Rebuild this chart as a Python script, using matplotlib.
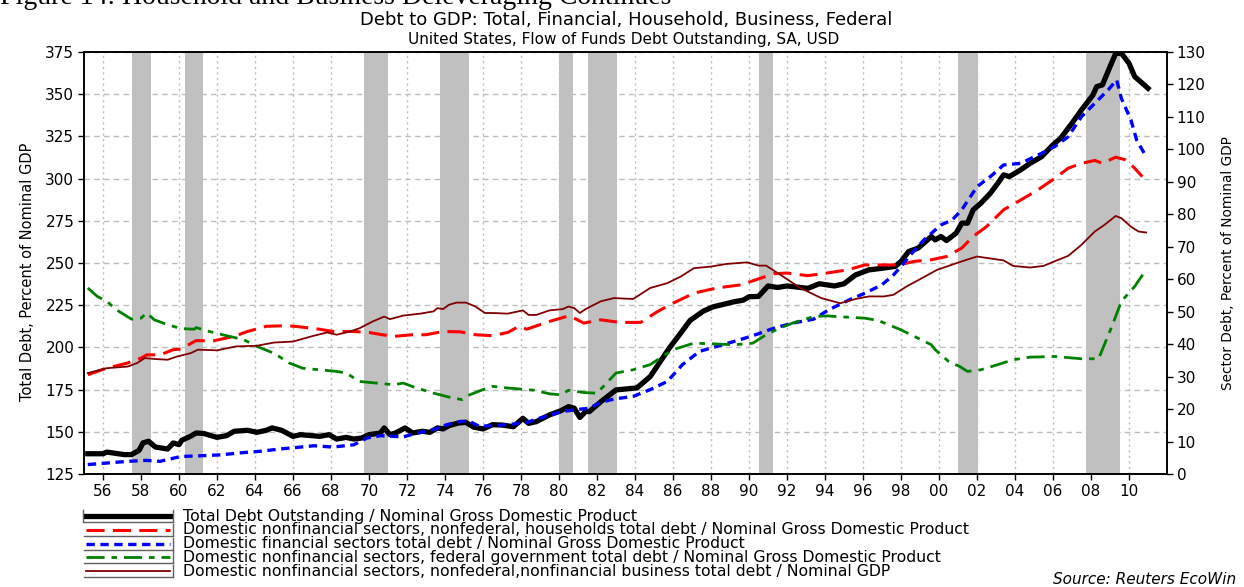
import matplotlib
matplotlib.use('Agg')
import matplotlib.pyplot as plt
from matplotlib.lines import Line2D

plt.rcParams['font.family'] = ['DejaVu Sans']
plt.rcParams['lines.scale_dashes'] = False

# data (years as decimal years)
total_years = [1955.2, 1956.0, 1956.2, 1957.1, 1957.5, 1957.9, 1958.1, 1958.4, 1958.75, 1959.4,
               1959.7, 1960.0, 1960.15, 1960.6, 1960.9, 1961.3, 1962.0, 1962.5, 1962.9, 1963.6,
               1964.1, 1964.6, 1964.9, 1965.4, 1966.0, 1966.4, 1967.4, 1967.9, 1968.3, 1968.8,
               1969.2, 1969.6, 1970.0, 1970.6, 1970.8, 1971.1, 1971.4, 1971.9, 1972.3, 1972.8,
               1973.2, 1973.6, 1973.9, 1974.2, 1974.7, 1975.1, 1975.5, 1976.0, 1976.5, 1977.0,
               1977.6, 1978.1, 1978.4, 1978.8, 1979.5, 1980.1, 1980.5, 1980.8, 1981.1, 1981.4,
               1981.6, 1982.2, 1983.0, 1984.1, 1984.8, 1985.8, 1986.4, 1986.9, 1987.6, 1988.1,
               1989.2, 1989.7, 1990.0, 1990.5, 1991.0, 1991.5, 1992.0, 1993.1, 1993.7, 1994.5,
               1995.0, 1995.6, 1996.3, 1997.1, 1997.7, 1998.0, 1998.4, 1998.9, 1999.6, 1999.8,
               2000.1, 2000.4, 2000.9, 2001.2, 2001.5, 2001.8, 2002.2, 2002.7, 2003.1, 2003.4,
               2003.7, 2004.3, 2004.8, 2005.4, 2006.0, 2006.4, 2007.0, 2007.5, 2008.1, 2008.3,
               2008.6, 2009.0, 2009.3, 2009.6, 2010.0, 2010.3, 2010.7, 2011.0]
total_debt = [137, 137, 138, 136.5, 136.5, 139, 143.4, 144.4, 141, 139.8,
              143.4, 142.4, 145, 147.3, 149.3, 149, 146.7, 147.7, 150.3, 150.9,
              149.7, 150.9, 152.3, 150.9, 147.3, 148.3, 147.3, 148.3, 145.7, 146.7,
              145.7, 146.3, 148.3, 149.3, 152.3, 148.3, 149.3, 152.3, 149.3, 150.3,
              149.7, 152.3, 151.7, 153.6, 155.2, 155.6, 152.8, 151.7, 154.2, 154,
              153, 158, 155, 156, 160, 162.5, 164.9, 164, 158.5, 162,
              162, 167.8, 174.8, 176, 182.7, 199.5, 208.4, 216, 221.5, 224,
              227, 228, 230, 230.2, 236.4, 235.5, 236.4, 235, 237.7, 236.4,
              237.7, 242.9, 245.9, 247, 248, 250.9, 256.8, 258.8, 265.7, 263.7,
              265.7, 263.3, 267.7, 273.6, 273.6, 281.5, 285.4, 291.3, 297.3, 302.2,
              301.2, 305.2, 309.1, 313, 320, 323.9, 332.8, 340.7, 349.5, 354.5,
              355.5, 366.3, 374.2, 374.2, 368.3, 360.4, 356.5, 353.5]

hh_years = [1955.2, 1956.2, 1957.3, 1958.0, 1958.3, 1959.0, 1959.7, 1960.1, 1960.9, 1961.8,
            1962.9, 1963.6, 1964.6, 1965.7, 1966.4, 1967.4, 1968.1, 1969.2, 1970.0, 1970.7,
            1971.3, 1972.3, 1973.0, 1973.9, 1974.8, 1975.6, 1976.5, 1977.3, 1977.9, 1978.3,
            1979.5, 1980.5, 1980.8, 1981.3, 1982.2, 1983.2, 1984.3, 1985.2, 1986.0, 1987.1,
            1988.3, 1989.6, 1990.6, 1991.3, 1992.0, 1993.1, 1994.1, 1995.2, 1996.1, 1997.1,
            1997.9, 1998.7, 1999.6, 2000.4, 2001.2, 2001.8, 2002.5, 2003.4, 2004.3, 2005.2,
            2006.1, 2006.8, 2007.5, 2008.2, 2008.6, 2009.3, 2009.8, 2010.3, 2010.7]
hh_debt = [30.6, 32.6, 34.2, 35.7, 36.7, 36.7, 38.3, 38.5, 41.1, 41.0,
           42.4, 43.9, 45.5, 45.7, 45.3, 44.6, 43.9, 43.9, 43.6, 42.9,
           42.4, 42.9, 42.9, 43.9, 43.8, 42.9, 42.6, 43.6, 45.5, 44.6,
           47.0, 48.7, 48.0, 46.5, 47.5, 46.7, 46.7, 50.1, 52.6, 55.7,
           57.3, 58.3, 60.3, 61.7, 61.9, 61.1, 61.9, 62.9, 64.4, 64.4,
           64.4, 65.5, 66.0, 67.0, 69.6, 73.2, 76.2, 81.4, 84.4, 87.5,
           91.1, 94.2, 95.7, 96.6, 95.7, 97.6, 96.8, 94.2, 91.6]

fin_years = [1955.2, 1957.3, 1958.3, 1959.0, 1960.1, 1961.1, 1962.2, 1963.2, 1964.3, 1965.3,
             1966.4, 1967.1, 1968.1, 1969.2, 1969.9, 1970.6, 1971.3, 1971.8, 1972.5, 1973.4,
             1974.1, 1974.8, 1975.3, 1975.8, 1976.5, 1977.3, 1978.3, 1979.3, 1980.2, 1980.9,
             1981.6, 1982.2, 1982.9, 1983.9, 1984.8, 1985.7, 1986.5, 1987.4, 1988.3, 1989.2,
             1990.2, 1991.3, 1992.3, 1993.4, 1994.2, 1995.3, 1996.1, 1997.0, 1997.6, 1998.0,
             1998.5, 1999.2, 2000.1, 2000.7, 2001.2, 2002.0, 2002.7, 2003.4, 2004.3, 2005.4,
             2006.1, 2006.8, 2007.5, 2008.2, 2008.9, 2009.35, 2009.6, 2010.1, 2010.4, 2010.9]
fin_debt = [2.9, 3.9, 4.2, 3.9, 5.4, 5.6, 5.9, 6.5, 7.0, 7.7,
            8.3, 8.7, 8.3, 9.0, 11.1, 11.8, 11.6, 11.4, 12.6, 13.7,
            15.2, 16.2, 16.2, 14.7, 14.9, 15.2, 15.9, 17.8, 19.3, 19.8,
            20.3, 22.1, 23.1, 23.9, 26.0, 28.5, 33.7, 37.8, 39.3, 40.8,
            42.6, 44.9, 46.5, 47.7, 50.6, 53.7, 55.7, 58.3, 61.3, 63.9,
            67.5, 72.1, 76.7, 78.3, 81.4, 88.5, 91.6, 95.2, 95.7, 98.8,
            100.9, 103.9, 110.1, 114.2, 118.3, 121.4, 115.7, 109.1, 102.9, 97.8]

fed_years = [1955.2, 1955.7, 1956.2, 1956.7, 1957.5, 1958.0, 1958.3, 1958.7, 1959.4, 1960.1,
             1960.8, 1960.9, 1961.6, 1962.5, 1963.4, 1964.1, 1965.0, 1965.8, 1966.5, 1967.4,
             1968.3, 1968.8, 1969.5, 1970.4, 1971.3, 1971.8, 1972.5, 1973.4, 1974.2, 1974.9,
             1975.3, 1976.0, 1976.5, 1977.3, 1978.7, 1979.5, 1980.1, 1980.5, 1981.3, 1982.0,
             1983.0, 1983.9, 1984.8, 1986.0, 1987.1, 1988.1, 1989.2, 1990.2, 1990.9, 1991.6,
             1992.3, 1993.4, 1994.1, 1995.2, 1996.1, 1996.8, 1998.0, 1998.7, 1999.6, 1999.8,
             2000.5, 2001.1, 2001.5, 2002.2, 2003.1, 2003.9, 2004.8, 2006.1, 2007.5, 2008.4,
             2009.1, 2009.6, 2010.3, 2010.9]
fed_debt = [57.3, 54.7, 53.2, 50.6, 47.7, 48.0, 49.6, 47.5, 46.0, 44.8,
            44.6, 45.1, 43.9, 42.6, 41.4, 39.3, 37.2, 34.2, 32.6, 32.1,
            31.6, 31.1, 28.5, 28.0, 27.5, 28.0, 26.5, 24.9, 23.7, 22.9,
            24.4, 26.0, 27.0, 26.5, 25.8, 24.7, 24.4, 25.8, 25.1, 24.9,
            31.1, 32.1, 33.7, 38.3, 40.3, 40.1, 39.8, 40.3, 42.9, 44.9,
            46.5, 48.5, 48.7, 48.3, 48.0, 47.3, 44.4, 42.4, 39.8, 38.3,
            34.7, 33.1, 31.6, 32.1, 33.7, 35.2, 36.0, 36.2, 35.5, 35.5,
            45.5, 53.2, 57.8, 62.9]

bus_years = [1955.2, 1956.2, 1957.3, 1957.8, 1958.2, 1958.8, 1959.4, 1959.9, 1960.6, 1961.0,
             1962.0, 1963.0, 1964.1, 1965.0, 1966.0, 1967.1, 1967.8, 1968.3, 1969.0, 1969.5,
             1970.2, 1970.8, 1971.1, 1971.8, 1972.7, 1973.4, 1973.6, 1973.9, 1974.2, 1974.6,
             1975.1, 1975.6, 1976.1, 1976.5, 1977.3, 1978.1, 1978.4, 1978.8, 1979.5, 1980.2,
             1980.5, 1980.8, 1981.1, 1981.4, 1982.2, 1982.9, 1983.9, 1984.8, 1985.7, 1986.4,
             1987.1, 1988.0, 1988.8, 1989.9, 1990.5, 1990.9, 1991.8, 1992.7, 1993.8, 1994.8,
             1995.6, 1996.3, 1997.1, 1997.6, 1998.3, 1999.0, 1999.9, 2000.4, 2001.3, 2002.0,
             2002.7, 2003.4, 2003.9, 2004.8, 2005.5, 2006.2, 2006.8, 2007.5, 2008.2, 2008.7,
             2009.3, 2009.6, 2010.1, 2010.5, 2010.9]
bus_debt = [31.1, 32.6, 33.1, 34.2, 35.7, 35.4, 35.2, 36.2, 37.2, 38.3,
            38.1, 39.3, 39.5, 40.5, 40.8, 42.6, 43.6, 42.9, 43.9, 44.9,
            47.0, 48.5, 47.7, 48.8, 49.4, 50.1, 51.1, 50.8, 52.1, 52.8,
            52.8, 51.6, 49.6, 49.6, 49.4, 50.4, 49.0, 49.0, 50.4, 50.8,
            51.6, 51.1, 49.6, 50.8, 53.2, 54.2, 53.9, 57.3, 58.8, 60.8,
            63.4, 63.9, 64.7, 65.2, 64.2, 64.2, 60.8, 57.3, 54.2, 52.6,
            53.9, 54.7, 54.7, 55.2, 57.8, 60.0, 62.9, 63.9, 65.7, 67.0,
            66.4, 65.8, 64.1, 63.6, 64.1, 65.8, 67.2, 70.6, 74.7, 76.7,
            79.5, 78.8, 76.2, 74.7, 74.4]

rec_start = [1957.5, 1960.3, 1969.75, 1973.75, 1980.0, 1981.55, 1990.5, 2001.0, 2007.75]
rec_end = [1958.5, 1961.25, 1971.0, 1975.25, 1980.75, 1983.05, 1991.25, 2002.05, 2009.5]

tick_years = list(range(1956, 2011, 2))
year_labels = ['%02d' % (y % 100) for y in tick_years]

labels = ['Total Debt Outstanding / Nominal Gross Domestic Product',
          'Domestic nonfinancial sectors, nonfederal, households total debt / Nominal Gross Domestic Product',
          'Domestic financial sectors total debt / Nominal Gross Domestic Product',
          'Domestic nonfinancial sectors, federal government total debt / Nominal Gross Domestic Product',
          'Domestic nonfinancial sectors, nonfederal,nonfinancial business total debt / Nominal GDP']

W, H = 1244, 587
fig = plt.figure(figsize=(W / 100, H / 100), dpi=100)
ax = fig.add_axes([84 / W, 1 - 474 / H, (1167 - 84) / W, (474 - 52) / H])
ax2 = ax.twinx()

# recessions
for a, b in zip(rec_start, rec_end):
    ax.axvspan(a, b, color='#C0C0C0', lw=0, zorder=1)

ln_tot, = ax.plot(total_years, total_debt, color='black', lw=3.8, zorder=3,
                  solid_joinstyle='round')
ln_hh, = ax2.plot(hh_years, hh_debt, color='#FF0000', lw=2.2, dashes=(13, 6))
ln_fin, = ax2.plot(fin_years, fin_debt, color='#0000FF', lw=2.4, dashes=(6, 4))
ln_fed, = ax2.plot(fed_years, fed_debt, color='#008000', lw=2.0, dashes=(13, 5, 4, 5))
ln_bus, = ax2.plot(bus_years, bus_debt, color='#800000', lw=1.3)

ax.set_xlim(1955, 2012)
ax.set_ylim(125, 375)
ax2.set_ylim(0, 130)
ax.set_xticks(tick_years)
ax.set_xticklabels(year_labels)
ax.set_yticks(range(125, 376, 25))
ax2.set_yticks(range(0, 131, 10))

ax.set_axisbelow(True)
ax.yaxis.grid(True, color='#BDBDBD', linestyle=(0, (4, 3)), lw=1)
ax.xaxis.grid(True, color='#BDBDBD', linestyle=(0, (1.5, 2.5)), lw=1)
ax2.grid(False)

for a in (ax, ax2):
    for s in a.spines.values():
        s.set_linewidth(1.2)
    a.tick_params(length=4, width=1, labelsize=11, pad=3)

# titles
fig.text(0.0, 1 - 3.5 / H, 'Figure 14: Household and Business Deleveraging Continues',
         family='Liberation Serif', fontsize=20, va='baseline', ha='left')
fig.text(626 / W, 1 - 20 / H, 'Debt to GDP: Total, Financial, Household, Business, Federal',
         fontsize=13, ha='center', va='center')
fig.text(624 / W, 1 - 39.5 / H, 'United States, Flow of Funds Debt Outstanding, SA, USD',
         fontsize=11, ha='center', va='center')
fig.text(27 / W, 1 - 272 / H, 'Total Debt, Percent of Nominal GDP', family='Liberation Sans Narrow',
         fontsize=10.5, rotation=90, ha='center', va='center')
fig.text(1228 / W, 1 - 263 / H, 'Sector Debt, Percent of Nominal GDP', family='Liberation Sans Narrow',
         fontsize=9.8, rotation=90, ha='center', va='center')

# legend drawn row by row under the plot
handles = [ln_tot, ln_hh, ln_fin, ln_fed, ln_bus]
for i, (h, lab) in enumerate(zip(handles, labels)):
    y = 516 + 13.8 * i
    fy = 1 - y / H
    seg = Line2D([86 / W, 170 / W], [fy, fy], transform=fig.transFigure,
                 color=h.get_color(), lw=h.get_linewidth())
    seg.set_linestyle(h.get_linestyle())
    if h is not ln_tot and h is not ln_bus:
        seg.set_dashes(h._unscaled_dash_pattern[1])
    fig.add_artist(seg)
    # little shadow frame of each sample
    fig.add_artist(Line2D([84 / W, 173 / W], [1 - (y + 6) / H] * 2, transform=fig.transFigure,
                          color='#606060', lw=1))
    fig.add_artist(Line2D([173 / W] * 2, [1 - (y - 6) / H, 1 - (y + 6) / H],
                          transform=fig.transFigure, color='#606060', lw=1))
    if i == 0:
        fig.add_artist(Line2D([83 / W] * 2, [1 - (y - 6) / H, 1 - (y + 6) / H],
                              transform=fig.transFigure, color='#606060', lw=1))
    fig.text(183 / W, fy, lab, fontsize=11.3, va='center', ha='left')

fig.text(1236 / W, 1 - 580 / H, 'Source: Reuters EcoWin', fontsize=11, style='italic',
         ha='right', va='center')

fig.savefig('out.png', dpi=100)
